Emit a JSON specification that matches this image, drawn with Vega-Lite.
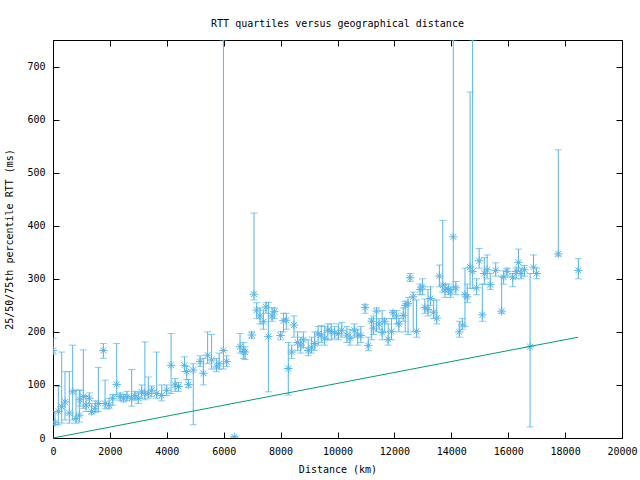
{
  "$schema": "https://vega.github.io/schema/vega-lite/v6.json",
  "width": 569,
  "height": 398,
  "autosize": {"type": "none"},
  "padding": {"left": 53, "top": 40, "right": 18, "bottom": 42},
  "background": "white",
  "title": {"text": "RTT quartiles versus geographical distance", "font": "DejaVu Sans Mono", "fontSize": 10, "fontWeight": "normal", "color": "black", "anchor": "middle", "offset": 11},
  "config": {
    "view": {"stroke": "black", "strokeWidth": 1},
    "axis": {"labelFont": "DejaVu Sans Mono", "labelFontSize": 10, "labelColor": "black", "titleFont": "DejaVu Sans Mono", "titleFontSize": 10, "titleFontWeight": "normal", "titleColor": "black", "domainColor": "black", "tickColor": "black", "tickSize": -6, "grid": false, "labelFlush": false}
  },
  "datasets": {
    "rtt": [
      {"d": 0, "m": 165, "lo": 158, "hi": 188},
      {"d": 70, "m": 29, "lo": 25, "hi": 50},
      {"d": 187, "m": 50, "lo": 25, "hi": 97},
      {"d": 305, "m": 59, "lo": 28, "hi": 162},
      {"d": 422, "m": 68, "lo": 34, "hi": 125},
      {"d": 574, "m": 47, "lo": 28, "hi": 125},
      {"d": 692, "m": 87, "lo": 34, "hi": 175},
      {"d": 808, "m": 37, "lo": 28, "hi": 90},
      {"d": 925, "m": 43, "lo": 30, "hi": 90},
      {"d": 950, "m": 72, "lo": 60, "hi": 90},
      {"d": 1066, "m": 78, "lo": 56, "hi": 166},
      {"d": 1160, "m": 62, "lo": 50, "hi": 80},
      {"d": 1277, "m": 75, "lo": 60, "hi": 85},
      {"d": 1360, "m": 50, "lo": 45, "hi": 65},
      {"d": 1480, "m": 56, "lo": 48, "hi": 70},
      {"d": 1593, "m": 65, "lo": 50, "hi": 133},
      {"d": 1770, "m": 165, "lo": 150, "hi": 178},
      {"d": 1830, "m": 65, "lo": 55, "hi": 109},
      {"d": 1970, "m": 62, "lo": 55, "hi": 75},
      {"d": 2100, "m": 75, "lo": 62, "hi": 82},
      {"d": 2240, "m": 101, "lo": 81, "hi": 178},
      {"d": 2360, "m": 78, "lo": 70, "hi": 85},
      {"d": 2480, "m": 75, "lo": 68, "hi": 82},
      {"d": 2600, "m": 78, "lo": 70, "hi": 88},
      {"d": 2765, "m": 75, "lo": 60, "hi": 129},
      {"d": 2880, "m": 80, "lo": 72, "hi": 88},
      {"d": 3000, "m": 75, "lo": 65, "hi": 85},
      {"d": 3118, "m": 87, "lo": 75, "hi": 100},
      {"d": 3230, "m": 84, "lo": 72, "hi": 181},
      {"d": 3350, "m": 84, "lo": 75, "hi": 115},
      {"d": 3470, "m": 90, "lo": 78, "hi": 98},
      {"d": 3645, "m": 84, "lo": 75, "hi": 162},
      {"d": 3820, "m": 80, "lo": 70, "hi": 100},
      {"d": 3995, "m": 90, "lo": 80, "hi": 100},
      {"d": 4150, "m": 137, "lo": 84, "hi": 197},
      {"d": 4290, "m": 100, "lo": 88, "hi": 112},
      {"d": 4410, "m": 97, "lo": 88, "hi": 105},
      {"d": 4620, "m": 137, "lo": 125, "hi": 153},
      {"d": 4700, "m": 125, "lo": 110, "hi": 135},
      {"d": 4760, "m": 101, "lo": 95, "hi": 110},
      {"d": 4930, "m": 128, "lo": 25, "hi": 140},
      {"d": 5170, "m": 144, "lo": 135, "hi": 155},
      {"d": 5285, "m": 122, "lo": 100, "hi": 150},
      {"d": 5435, "m": 156, "lo": 140, "hi": 200},
      {"d": 5575, "m": 147, "lo": 130, "hi": 195},
      {"d": 5750, "m": 134, "lo": 125, "hi": 150},
      {"d": 5840, "m": 140, "lo": 130, "hi": 160},
      {"d": 5990, "m": 165, "lo": 130, "hi": 750},
      {"d": 6105, "m": 144, "lo": 135, "hi": 155},
      {"d": 6375, "m": 2, "lo": 0, "hi": 3},
      {"d": 6575, "m": 172, "lo": 160, "hi": 197},
      {"d": 6690, "m": 163, "lo": 150, "hi": 180},
      {"d": 6750, "m": 162, "lo": 148, "hi": 172},
      {"d": 6985, "m": 194, "lo": 188, "hi": 200},
      {"d": 7065, "m": 271, "lo": 260, "hi": 424},
      {"d": 7160, "m": 241, "lo": 225, "hi": 255},
      {"d": 7275, "m": 230, "lo": 215, "hi": 245},
      {"d": 7395, "m": 219, "lo": 205, "hi": 240},
      {"d": 7487, "m": 247, "lo": 235, "hi": 255},
      {"d": 7570, "m": 191, "lo": 87, "hi": 256},
      {"d": 7700, "m": 230, "lo": 220, "hi": 245},
      {"d": 7780, "m": 238, "lo": 225, "hi": 245},
      {"d": 8000, "m": 193, "lo": 185, "hi": 200},
      {"d": 8100, "m": 221, "lo": 200, "hi": 235},
      {"d": 8200, "m": 222, "lo": 205, "hi": 235},
      {"d": 8270, "m": 131, "lo": 81, "hi": 180},
      {"d": 8390, "m": 162, "lo": 150, "hi": 175},
      {"d": 8470, "m": 213, "lo": 190, "hi": 230},
      {"d": 8600, "m": 180, "lo": 165, "hi": 200},
      {"d": 8710, "m": 175, "lo": 160, "hi": 190},
      {"d": 8800, "m": 185, "lo": 170, "hi": 200},
      {"d": 8970, "m": 165, "lo": 155, "hi": 185},
      {"d": 9090, "m": 170, "lo": 160, "hi": 190},
      {"d": 9200, "m": 178, "lo": 165, "hi": 200},
      {"d": 9320, "m": 196, "lo": 175, "hi": 210},
      {"d": 9430, "m": 194, "lo": 180, "hi": 212},
      {"d": 9550, "m": 188, "lo": 175, "hi": 210},
      {"d": 9660, "m": 203, "lo": 185, "hi": 215},
      {"d": 9780, "m": 201, "lo": 185, "hi": 215},
      {"d": 9900, "m": 198, "lo": 188, "hi": 210},
      {"d": 10030, "m": 197, "lo": 185, "hi": 215},
      {"d": 10150, "m": 203, "lo": 190, "hi": 218},
      {"d": 10330, "m": 194, "lo": 180, "hi": 210},
      {"d": 10440, "m": 188, "lo": 175, "hi": 205},
      {"d": 10590, "m": 203, "lo": 190, "hi": 215},
      {"d": 10710, "m": 194, "lo": 175, "hi": 205},
      {"d": 10820, "m": 193, "lo": 180, "hi": 210},
      {"d": 10970, "m": 246, "lo": 235, "hi": 252},
      {"d": 11080, "m": 174, "lo": 165, "hi": 190},
      {"d": 11200, "m": 220, "lo": 185, "hi": 225},
      {"d": 11260, "m": 207, "lo": 195, "hi": 230},
      {"d": 11370, "m": 239, "lo": 200, "hi": 245},
      {"d": 11460, "m": 215, "lo": 205, "hi": 225},
      {"d": 11570, "m": 199, "lo": 185, "hi": 240},
      {"d": 11660, "m": 220, "lo": 200, "hi": 225},
      {"d": 11780, "m": 186, "lo": 175, "hi": 215},
      {"d": 11900, "m": 201, "lo": 185, "hi": 225},
      {"d": 11950, "m": 236, "lo": 225, "hi": 240},
      {"d": 12070, "m": 230, "lo": 215, "hi": 240},
      {"d": 12160, "m": 215, "lo": 200, "hi": 225},
      {"d": 12310, "m": 231, "lo": 220, "hi": 245},
      {"d": 12380, "m": 250, "lo": 200, "hi": 258},
      {"d": 12480, "m": 253, "lo": 195, "hi": 265},
      {"d": 12550, "m": 302, "lo": 295, "hi": 310},
      {"d": 12660, "m": 266, "lo": 200, "hi": 275},
      {"d": 12780, "m": 201, "lo": 190, "hi": 260},
      {"d": 12900, "m": 280, "lo": 270, "hi": 290},
      {"d": 12990, "m": 285, "lo": 270, "hi": 300},
      {"d": 13070, "m": 246, "lo": 235, "hi": 262},
      {"d": 13180, "m": 242, "lo": 230, "hi": 280},
      {"d": 13270, "m": 263, "lo": 250, "hi": 285},
      {"d": 13380, "m": 237, "lo": 225, "hi": 260},
      {"d": 13490, "m": 226, "lo": 215, "hi": 260},
      {"d": 13580, "m": 305, "lo": 285, "hi": 326},
      {"d": 13700, "m": 288, "lo": 275, "hi": 410},
      {"d": 13780, "m": 279, "lo": 265, "hi": 290},
      {"d": 13900, "m": 280, "lo": 270, "hi": 290},
      {"d": 13980, "m": 275, "lo": 265, "hi": 285},
      {"d": 14070, "m": 379, "lo": 280, "hi": 750},
      {"d": 14160, "m": 283, "lo": 270, "hi": 295},
      {"d": 14280, "m": 200, "lo": 190, "hi": 220},
      {"d": 14390, "m": 213, "lo": 205, "hi": 225},
      {"d": 14480, "m": 270, "lo": 210, "hi": 320},
      {"d": 14560, "m": 266, "lo": 255, "hi": 290},
      {"d": 14660, "m": 322, "lo": 282, "hi": 652},
      {"d": 14750, "m": 314, "lo": 282, "hi": 750},
      {"d": 14890, "m": 283, "lo": 270, "hi": 300},
      {"d": 14980, "m": 334, "lo": 320, "hi": 357},
      {"d": 15090, "m": 232, "lo": 220, "hi": 290},
      {"d": 15160, "m": 310, "lo": 290, "hi": 340},
      {"d": 15260, "m": 317, "lo": 300, "hi": 345},
      {"d": 15370, "m": 289, "lo": 280, "hi": 310},
      {"d": 15560, "m": 316, "lo": 305, "hi": 330},
      {"d": 15770, "m": 239, "lo": 235, "hi": 305},
      {"d": 15840, "m": 303, "lo": 290, "hi": 315},
      {"d": 15960, "m": 314, "lo": 305, "hi": 320},
      {"d": 16160, "m": 303, "lo": 285, "hi": 310},
      {"d": 16280, "m": 314, "lo": 300, "hi": 322},
      {"d": 16360, "m": 331, "lo": 315, "hi": 356},
      {"d": 16450, "m": 310, "lo": 300, "hi": 320},
      {"d": 16570, "m": 317, "lo": 305, "hi": 325},
      {"d": 16770, "m": 172, "lo": 21, "hi": 310},
      {"d": 16890, "m": 322, "lo": 310, "hi": 345},
      {"d": 17000, "m": 310, "lo": 300, "hi": 320},
      {"d": 17760, "m": 347, "lo": 343, "hi": 543},
      {"d": 18465, "m": 316, "lo": 300, "hi": 338}
    ],
    "model": [
      {"d": 0, "rtt": 0},
      {"d": 18460, "rtt": 190}
    ]
  },
  "resolve": {"axis": {"x": "independent", "y": "independent"}},
  "layer": [
    {
      "data": {"name": "rtt"},
      "mark": {"type": "rule", "color": "#56b4e9", "strokeWidth": 1, "clip": true},
      "encoding": {
        "x": {"field": "d", "type": "quantitative", "scale": {"domain": [0, 20000], "nice": false}, "axis": {"title": "Distance (km)", "values": [0, 2000, 4000, 6000, 8000, 10000, 12000, 14000, 16000, 18000, 20000], "format": "d", "labelPadding": 14, "titlePadding": 8}},
        "y": {"field": "lo", "type": "quantitative", "scale": {"domain": [0, 750], "nice": false}, "axis": {"title": "25/50/75th percentile RTT (ms)", "values": [0, 100, 200, 300, 400, 500, 600, 700], "labelPadding": 14, "titlePadding": 12}},
        "y2": {"field": "hi"}
      }
    },
    {
      "data": {"name": "rtt"},
      "mark": {"type": "tick", "orient": "horizontal", "color": "#56b4e9", "size": 7, "thickness": 1, "clip": true},
      "encoding": {
        "x": {"field": "d", "type": "quantitative", "axis": null},
        "y": {"field": "lo", "type": "quantitative", "axis": null}
      }
    },
    {
      "data": {"name": "rtt"},
      "mark": {"type": "tick", "orient": "horizontal", "color": "#56b4e9", "size": 7, "thickness": 1, "clip": true},
      "encoding": {
        "x": {"field": "d", "type": "quantitative", "axis": null},
        "y": {"field": "hi", "type": "quantitative", "axis": null}
      }
    },
    {
      "data": {"name": "rtt"},
      "mark": {"type": "point", "shape": "M-1,0H1M0,-1V1M-0.7,-0.7L0.7,0.7M-0.7,0.7L0.7,-0.7", "filled": false, "color": "#56b4e9", "strokeWidth": 1, "size": 70, "opacity": 1, "clip": true},
      "encoding": {
        "x": {"field": "d", "type": "quantitative", "axis": null},
        "y": {"field": "m", "type": "quantitative", "axis": null}
      }
    },
    {
      "data": {"name": "model"},
      "mark": {"type": "line", "color": "#009e73", "strokeWidth": 1},
      "encoding": {
        "x": {"field": "d", "type": "quantitative", "axis": {"orient": "top", "labels": false, "title": null, "domain": false, "values": [0, 2000, 4000, 6000, 8000, 10000, 12000, 14000, 16000, 18000, 20000]}},
        "y": {"field": "rtt", "type": "quantitative", "axis": {"orient": "right", "labels": false, "title": null, "domain": false, "values": [0, 100, 200, 300, 400, 500, 600, 700]}}
      }
    }
  ]
}
